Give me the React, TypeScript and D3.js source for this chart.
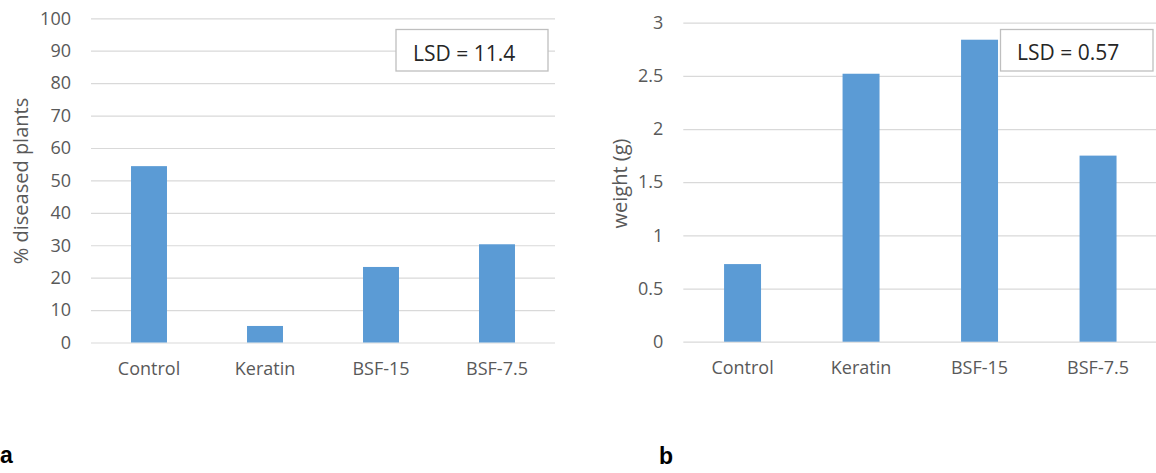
import { useEffect, useRef } from "react";
import * as d3 from "d3";

// data
const treatments = ["Control", "Keratin", "BSF-15", "BSF-7.5"];
const diseasedPct = [54.4, 5.1, 23.3, 30.3];
const plantWeight = [0.73, 2.52, 2.84, 1.75];
const pctTicks = [0, 10, 20, 30, 40, 50, 60, 70, 80, 90, 100];
const weightTicks = [0, 0.5, 1, 1.5, 2, 2.5, 3];
const lsdLabels = ["LSD = 11.4", "LSD = 0.57"];
const yTitles = ["% diseased plants", "weight (g)"];
const panelLetters = ["a", "b"];

const FONT = "'Open Sans', 'DejaVu Sans', sans-serif";

function App() {
  const ref = useRef(null);

  useEffect(() => {
    const svg = d3.select(ref.current);
    svg.selectAll("*").remove();

    // panel layouts
    const panels = [
      {
        values: diseasedPct,
        ticks: pctTicks,
        fmt: (d) => String(d),
        domain: [0, 100],
        left: 91,
        right: 555,
        top: 18.3,
        bottom: 342.5,
        pad: 0.69,
        titleX: 28,
        titleY: 181,
        lsd: { x: 396, y: 29.5, w: 152, h: 41.5, tx: 413, ty: 60.5 },
        letterX: 0,
        letterY: 463,
      },
      {
        values: plantWeight,
        ticks: weightTicks,
        fmt: (d) => String(d),
        domain: [0, 3],
        left: 683.3,
        right: 1157.3,
        top: 22.7,
        bottom: 341.7,
        pad: 0.688,
        titleX: 627,
        titleY: 183.5,
        lsd: { x: 1000.5, y: 29.5, w: 152.5, h: 41.5, tx: 1017, ty: 60 },
        letterX: 659,
        letterY: 464,
      },
    ];

    panels.forEach((p, i) => {
      const x = d3
        .scaleBand()
        .domain(treatments)
        .range([p.left, p.right])
        .paddingInner(p.pad)
        .paddingOuter(p.pad / 2);
      const y = d3.scaleLinear().domain(p.domain).range([p.bottom, p.top]);

      const g = svg.append("g");

      // gridlines + tick labels
      const yAxis = g
        .append("g")
        .attr("transform", `translate(${p.left},0)`)
        .call(
          d3
            .axisLeft(y)
            .tickValues(p.ticks)
            .tickFormat(p.fmt)
            .tickSize(-(p.right - p.left))
            .tickPadding(20)
        );
      yAxis.select(".domain").remove();
      yAxis.selectAll("line").attr("stroke", "#d9d9d9").attr("stroke-width", 1.2);
      yAxis
        .selectAll("text")
        .attr("fill", "#595959")
        .style("font-family", FONT)
        .style("font-size", "18px");

      // bars
      g.selectAll("rect.bar")
        .data(p.values)
        .join("rect")
        .attr("class", "bar")
        .attr("x", (d, j) => x(treatments[j]))
        .attr("width", x.bandwidth())
        .attr("y", (d) => y(d))
        .attr("height", (d) => y(0) - y(d))
        .attr("fill", "#5b9bd5");

      // category labels
      const xAxis = g
        .append("g")
        .attr("transform", `translate(0,${p.bottom})`)
        .call(d3.axisBottom(x).tickSize(0).tickPadding(20));
      xAxis.select(".domain").remove();
      xAxis
        .selectAll("text")
        .attr("fill", "#595959")
        .style("font-family", FONT)
        .style("font-size", "18px");

      // y title
      g.append("text")
        .attr("transform", `translate(${p.titleX},${p.titleY})rotate(-90)`)
        .attr("text-anchor", "middle")
        .attr("fill", "#595959")
        .style("font-family", FONT)
        .style("font-size", "20px")
        .text(yTitles[i]);

      // LSD box
      g.append("rect")
        .attr("x", p.lsd.x)
        .attr("y", p.lsd.y)
        .attr("width", p.lsd.w)
        .attr("height", p.lsd.h)
        .attr("fill", "white")
        .attr("stroke", "#bfbfbf")
        .attr("stroke-width", 1.3);
      g.append("text")
        .attr("x", p.lsd.tx)
        .attr("y", p.lsd.ty)
        .attr("fill", "#262626")
        .style("font-family", FONT)
        .style("font-size", "21px")
        .text(lsdLabels[i]);

      // panel letter
      g.append("text")
        .attr("x", p.letterX)
        .attr("y", p.letterY)
        .attr("fill", "#000")
        .style("font-family", "'Liberation Sans', Arial, sans-serif")
        .style("font-weight", "bold")
        .style("font-size", "23px")
        .text(panelLetters[i]);
    });
  }, []);

  return (
    <svg
      ref={ref}
      width={1156}
      height={473}
      style={{ position: "absolute", left: 0, top: 0, background: "white" }}
    ></svg>
  );
}

export default App;
